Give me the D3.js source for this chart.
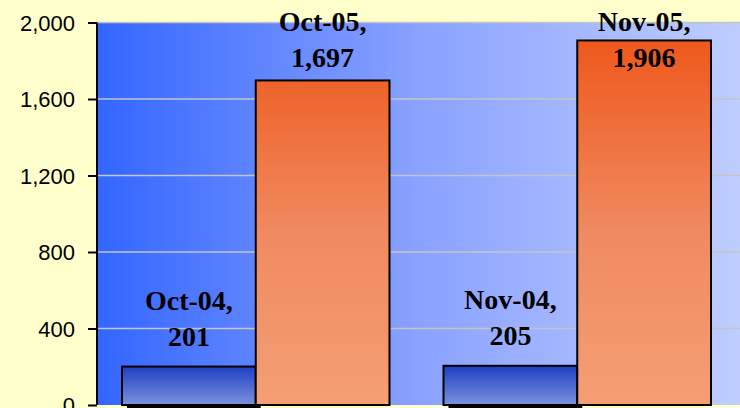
<!DOCTYPE html>
<html><head><meta charset="utf-8">
<script src="https://cdn.jsdelivr.net/npm/d3@7"></script>
<style>html,body{margin:0;padding:0;background:#ffffcc;overflow:hidden}</style>
</head><body>
<svg id="c" width="740" height="408"></svg>
<script>
const months = ["Oct", "Nov"];
const names04 = ["Oct-04", "Nov-04"];
const names05 = ["Oct-05", "Nov-05"];
const values04 = [201, 205];
const values05 = [1697, 1906];
const yTicks = [0, 400, 800, 1200, 1600, 2000];

const svg = d3.select("#c");
const W = 740, H = 408;
const plot = {left: 97, right: 741, top: 22.5, bottom: 405};

const defs = svg.append("defs");
const bg = defs.append("linearGradient").attr("id", "bg").attr("x1", 0).attr("x2", 1).attr("y1", 0).attr("y2", 0);
bg.append("stop").attr("offset", "0%").attr("stop-color", "#3366ff");
bg.append("stop").attr("offset", "50%").attr("stop-color", "#8aa2ff");
bg.append("stop").attr("offset", "100%").attr("stop-color", "#bfcdff");
const gb = defs.append("linearGradient").attr("id", "gb").attr("x1", 0).attr("x2", 0).attr("y1", 0).attr("y2", 1);
gb.append("stop").attr("offset", "0%").attr("stop-color", "#1f3fc2");
gb.append("stop").attr("offset", "100%").attr("stop-color", "#7b92dc");
const go = defs.append("linearGradient").attr("id", "go").attr("gradientUnits", "userSpaceOnUse")
  .attr("x1", 0).attr("x2", 0).attr("y1", plot.top).attr("y2", plot.bottom);
go.append("stop").attr("offset", "0%").attr("stop-color", "#ee5416");
go.append("stop").attr("offset", "55%").attr("stop-color", "#f08a60");
go.append("stop").attr("offset", "100%").attr("stop-color", "#f59e74");

svg.append("rect").attr("width", W).attr("height", H).attr("fill", "#ffffcc");
svg.append("rect").attr("x", plot.left).attr("y", plot.top)
  .attr("width", plot.right - plot.left).attr("height", plot.bottom - plot.top).attr("fill", "url(#bg)");

const y = d3.scaleLinear().domain([0, 2000]).range([plot.bottom, plot.top]);
const x = d3.scaleBand().domain(months).range([95, 738]).paddingInner(0.168).paddingOuter(0.084);
const xs = d3.scaleBand().domain(["04", "05"]).range([0, x.bandwidth()]);

// gridlines
svg.append("g").selectAll("line").data(yTicks.filter(d => d > 0)).join("line")
  .attr("x1", plot.left).attr("x2", plot.right)
  .attr("y1", d => y(d)).attr("y2", d => y(d))
  .attr("stroke", "#c4c4c4").attr("stroke-width", 1.5);

// shadow under blue bars
svg.append("g").selectAll("rect").data(months).join("rect")
  .attr("x", d => x(d) + xs("04") + 5).attr("y", plot.bottom)
  .attr("width", xs.bandwidth()).attr("height", 6).attr("fill", "#000");

// bars
const bars = svg.append("g");
bars.selectAll("rect.b").data(months).join("rect").attr("class", "b")
  .attr("x", d => x(d) + xs("04")).attr("y", (d, i) => y(values04[i]))
  .attr("width", xs.bandwidth()).attr("height", (d, i) => y(0) - y(values04[i]))
  .attr("fill", "url(#gb)").attr("stroke", "#000").attr("stroke-width", 2);
bars.selectAll("rect.o").data(months).join("rect").attr("class", "o")
  .attr("x", d => x(d) + xs("05")).attr("y", (d, i) => y(values05[i]))
  .attr("width", xs.bandwidth()).attr("height", (d, i) => y(0) - y(values05[i]))
  .attr("fill", "url(#go)").attr("stroke", "#000").attr("stroke-width", 2);

// axis
const axis = svg.append("g").attr("transform", `translate(${plot.left},0)`)
  .call(d3.axisLeft(y).tickValues(yTicks).tickFormat(d3.format(",")).tickSize(9).tickPadding(13));
axis.select(".domain").attr("stroke", "#000").attr("stroke-width", 2).attr("d", `M0,${plot.top}V${plot.bottom}`);
axis.selectAll(".tick line").attr("stroke", "#000").attr("stroke-width", 2);
axis.selectAll(".tick text").attr("font-family", "Liberation Sans, Arial, sans-serif")
  .attr("font-size", 22).attr("fill", "#000").attr("dy", "0.36em");

// labels
const fmt = d3.format(",");
function addLabels(names, values, key) {
  const g = svg.append("g");
  months.forEach((m, i) => {
    const cx = x(m) + xs(key) + xs.bandwidth() / 2;
    let b1 = y(values[i]) - 21 - 36;
    b1 = Math.max(b1, 31);
    const t = g.append("text").attr("x", cx).attr("text-anchor", "middle")
      .attr("font-family", "Liberation Serif, Times New Roman, serif")
      .attr("font-weight", "bold").attr("font-size", 28).attr("fill", "#000");
    t.append("tspan").attr("x", cx).attr("y", b1).text(names[i] + ",");
    t.append("tspan").attr("x", cx).attr("y", b1 + 36).text(fmt(values[i]));
  });
}
addLabels(names04, values04, "04");
addLabels(names05, values05, "05");
</script>
</body></html>
